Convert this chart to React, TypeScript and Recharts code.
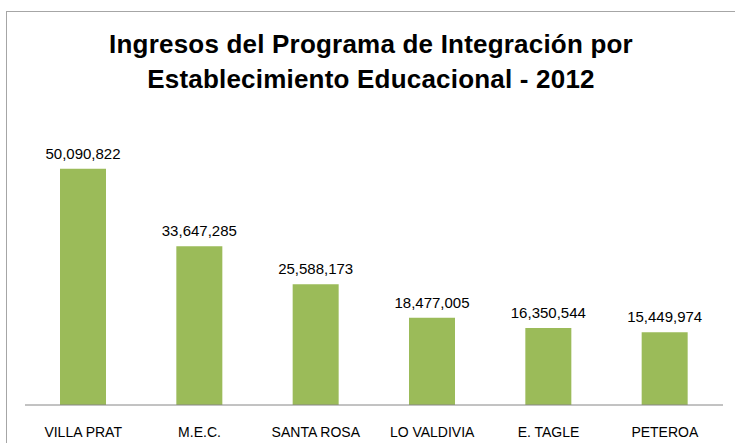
import React from "react";
import { BarChart, Bar, XAxis, YAxis, LabelList } from "recharts";

const schools = ["VILLA PRAT", "M.E.C.", "SANTA ROSA", "LO VALDIVIA", "E. TAGLE", "PETEROA"];
const ingresos = [50090822, 33647285, 25588173, 18477005, 16350544, 15449974];

const data = schools.map((name, i) => ({ name, value: ingresos[i] }));

const FONT = "'Liberation Sans', Arial, sans-serif";

export default function App() {
  return (
    <div
      style={{
        position: "absolute",
        left: 0,
        top: 0,
        width: 735,
        height: 443,
        overflow: "hidden",
        background: "#fff",
        fontFamily: FONT,
      }}
    >
      {/* chart frame, right/bottom edges fall outside the picture */}
      <div
        style={{
          position: "absolute",
          left: 6,
          top: 11,
          width: 760,
          height: 460,
          border: "1px solid #A6A6A6",
          boxSizing: "border-box",
        }}
      />
      <div
        style={{
          position: "absolute",
          left: 0,
          top: 27,
          width: 742,
          textAlign: "center",
          fontWeight: "bold",
          fontSize: 26,
          lineHeight: "35px",
          color: "#000",
          letterSpacing: 0.2,
        }}
      >
        Ingresos del Programa de Integración por
        <br />
        Establecimiento Educacional - 2012
      </div>
      <div style={{ position: "absolute", left: 0, top: 0 }}>
        <BarChart
          width={735}
          height={443}
          data={data}
          margin={{ top: 122, right: 12, left: 25, bottom: 0 }}
        >
          <XAxis
            dataKey="name"
            height={38}
            axisLine={{ stroke: "#868686" }}
            tickLine={false}
            tickSize={6}
            tickMargin={16}
            interval={0}
            tick={{ fontSize: 14, fill: "#000", fontFamily: FONT }}
          />
          <YAxis hide domain={[0, 60000000]} />
          <Bar dataKey="value" fill="#9BBB59" barSize={46} isAnimationActive={false}>
            <LabelList
              dataKey="value"
              position="top"
              offset={10}
              formatter={(v: number) => v.toLocaleString("en-US")}
              style={{ fontSize: 15, fill: "#000", fontFamily: FONT }}
            />
          </Bar>
        </BarChart>
      </div>
    </div>
  );
}
